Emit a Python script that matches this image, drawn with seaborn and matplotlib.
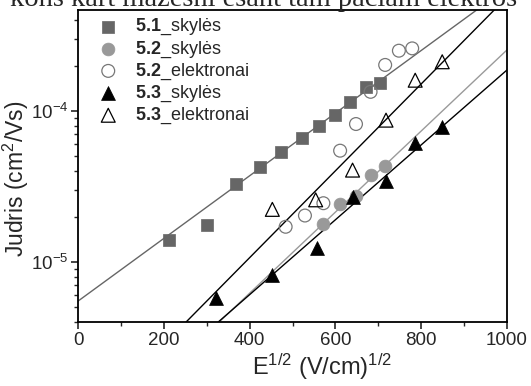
import numpy as np
import pandas as pd
import matplotlib
matplotlib.use("Agg")
import matplotlib.pyplot as plt
import seaborn as sns
from matplotlib.ticker import LogLocator, NullFormatter, MultipleLocator

# ---- data ----
x_51s = [212, 300, 368, 424, 474, 521, 562, 599, 635, 671, 704]
y_51s = [1.40e-5, 1.76e-5, 3.29e-5, 4.24e-5, 5.37e-5, 6.59e-5, 8.0e-5, 9.4e-5, 1.15e-4, 1.44e-4, 1.54e-4]

x_52s = [572, 611, 648, 683, 716]
y_52s = [1.78e-5, 2.41e-5, 2.75e-5, 3.77e-5, 4.35e-5]

x_52e = [484, 529, 572, 611, 648, 682, 716, 748, 779]
y_52e = [1.71e-5, 2.03e-5, 2.45e-5, 5.46e-5, 8.2e-5, 1.34e-4, 2.02e-4, 2.51e-4, 2.6e-4]

x_53s = [321, 453, 556, 642, 718, 786, 849]
y_53s = [5.75e-6, 8.2e-6, 1.23e-5, 2.71e-5, 3.46e-5, 6.1e-5, 7.87e-5]

x_53e = [453, 554, 640, 718, 786, 849]
y_53e = [2.23e-5, 2.58e-5, 4.06e-5, 8.7e-5, 1.6e-4, 2.12e-4]

# fit lines (end points)
fit_x_51 = [0, 1000]
fit_y_51 = [5.5e-6, 6.55e-4]
fit_x_53e = [252, 1000]
fit_y_53e = [4.0e-6, 5.69e-4]
fit_x_52s = [329, 1000]
fit_y_52s = [4.0e-6, 2.54e-4]
fit_x_53s = [327, 1000]
fit_y_53s = [4.0e-6, 1.87e-4]

labels = [r"$\mathbf{5.1}$_skylės", r"$\mathbf{5.2}$_skylės", r"$\mathbf{5.2}$_elektronai",
          r"$\mathbf{5.3}$_skylės", r"$\mathbf{5.3}$_elektronai"]

top_text = "kons kart mažesni esant tam pačiam elektros"

# ---- style ----
sns.set_style("ticks")
plt.rcParams['font.family'] = ['Liberation Sans', 'DejaVu Sans']
plt.rcParams['mathtext.fontset'] = 'custom'
plt.rcParams['mathtext.rm'] = 'Liberation Sans'
plt.rcParams['mathtext.bf'] = 'Liberation Sans:bold'
plt.rcParams['mathtext.it'] = 'Liberation Sans:italic'

fig = plt.figure(figsize=(5.31, 3.86), dpi=100)
ax = fig.add_axes([78/531, 1 - 322/386, (507-78)/531, (322-10)/386])

# fit lines
line_specs = [(fit_x_51, fit_y_51, '#666666'), (fit_x_53e, fit_y_53e, 'black'),
              (fit_x_52s, fit_y_52s, '#9a9a9a'), (fit_x_53s, fit_y_53s, 'black')]
for fx, fy, c in line_specs:
    sns.lineplot(x=fx, y=fy, ax=ax, color=c, lw=1.0, legend=False)

ms = 75
sns.scatterplot(x=x_51s, y=y_51s, ax=ax, marker='s', color='#666666', s=ms, edgecolor='#666666',
                linewidth=0.5, label=labels[0], zorder=3)
sns.scatterplot(x=x_52s, y=y_52s, ax=ax, marker='o', color='#999999', s=ms+10, edgecolor='#999999',
                linewidth=0.5, label=labels[1], zorder=3)
sns.scatterplot(x=x_52e, y=y_52e, ax=ax, marker='o', color='#777777', facecolor='none', s=ms+10,
                edgecolor='#777777', linewidth=0.9, label=labels[2], zorder=3)
sns.scatterplot(x=x_53s, y=y_53s, ax=ax, marker='^', color='black', s=ms+25, edgecolor='black',
                linewidth=0.5, label=labels[3], zorder=3)
sns.scatterplot(x=x_53e, y=y_53e, ax=ax, marker='^', color='black', facecolor='none', s=ms+25,
                edgecolor='black', linewidth=0.9, label=labels[4], zorder=3)

ax.set_yscale('log')
ax.set_xlim(0, 1000)
ax.set_ylim(4.0e-6, 4.67e-4)
ax.xaxis.set_major_locator(MultipleLocator(200))
ax.xaxis.set_minor_locator(MultipleLocator(100))
ax.yaxis.set_major_locator(LogLocator(base=10))
ax.yaxis.set_minor_locator(LogLocator(base=10, subs=np.arange(2, 10)))
ax.yaxis.set_minor_formatter(NullFormatter())

for s in ax.spines.values():
    s.set_linewidth(1.3)
    s.set_color('black')
ax.tick_params(which='major', direction='out', length=5, width=1.2, labelsize=13.5, pad=2,
               top=False, right=False)
ax.tick_params(which='minor', direction='out', length=3, width=1.0, top=False, right=False)

ax.set_xlabel(r"E$^{1/2}$ (V/cm)$^{1/2}$", fontsize=17)
ax.set_ylabel(r"Judris (cm$^2$/Vs)", fontsize=16.5)
ax.xaxis.set_label_coords((322 - 78) / 429, -30 / 312)
ax.yaxis.set_label_coords((31 - 78) / 429, 0.46)

leg = ax.legend(loc='upper left', bbox_to_anchor=(0.02, 1.012), frameon=False, fontsize=13,
                handletextpad=0.9, labelspacing=0.1, borderaxespad=0.2, handlelength=1.2)

fig.text(10/531, 1 - 6/386, top_text, fontfamily='Liberation Serif', fontsize=20.5, va='baseline', ha='left')

fig.savefig("out.png", dpi=100)
